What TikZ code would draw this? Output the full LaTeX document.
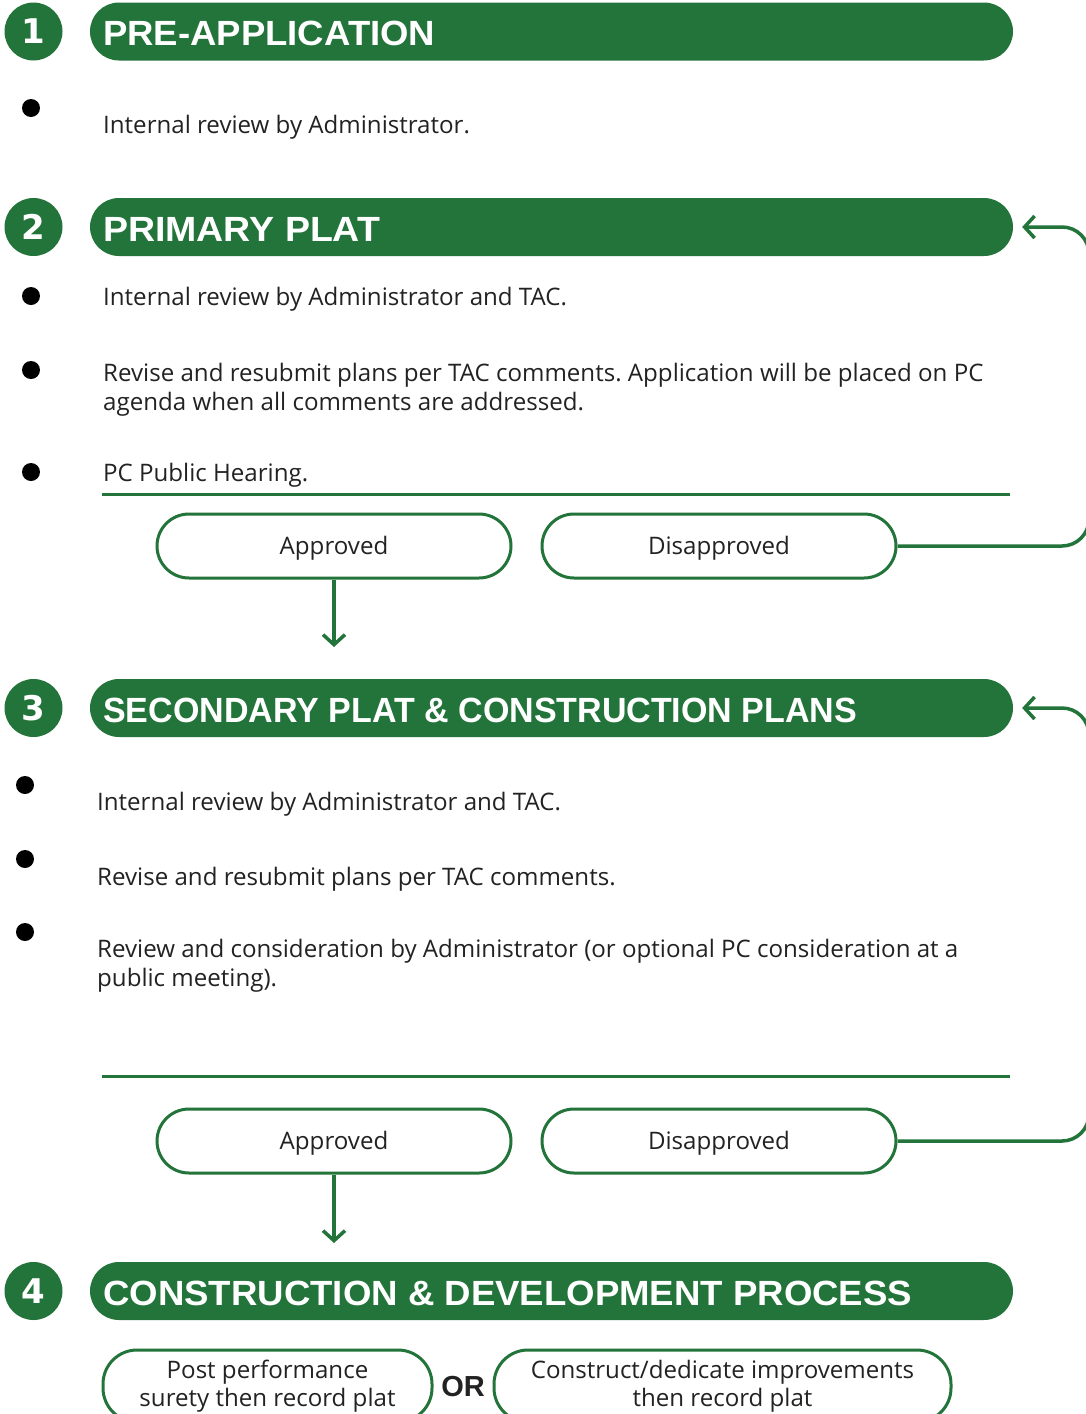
\documentclass[tikz,border=0pt]{standalone}
\usepackage{fontspec}
\usepackage{graphicx}
\setmainfont{Open Sans}
\newfontfamily\headfont{Liberation Sans}
\newfontfamily\digitfont{DejaVu Sans}
\usetikzlibrary{arrows.meta}
\frenchspacing
\definecolor{planGreen}{HTML}{22743A}
\definecolor{bodyInk}{HTML}{222222}

\tikzset{
  pill/.style={fill=planGreen, draw=none, rounded corners=29pt,
    minimum width=923pt, minimum height=58pt, inner sep=0pt},
  stepdisc/.style={circle, fill=planGreen, minimum size=58pt, inner sep=0pt,
    text=white, font=\digitfont\bfseries\fontsize{34}{34}\selectfont},
  headtext/.style={anchor=base west, inner sep=0pt, text=white,
    font=\headfont\bfseries\fontsize{35}{35}\selectfont},
  bodytext/.style={anchor=base west, inner sep=0pt, text=bodyInk, align=left,
    font=\fontsize{24.1}{28.5}\selectfont},
  dot/.style={circle, fill=black, minimum size=18pt, inner sep=0pt},
  rule/.style={draw=planGreen, line width=3pt},
  choice/.style={draw=planGreen, line width=3pt, rounded corners=32pt,
    minimum width=354pt, minimum height=64pt, inner sep=0pt, text=bodyInk,
    text height=17pt, text depth=0pt,
    font=\fontsize{24.1}{28.5}\selectfont},
  option/.style={draw=planGreen, line width=3pt, rounded corners=34pt,
    minimum height=72pt, inner sep=0pt, text=bodyInk, align=center,
    font=\fontsize{24.1}{28}\selectfont},
  flow/.style={draw=planGreen, line width=3.5pt,
    -{Straight Barb[length=10pt, width=22pt]}},
  loop/.style={flow, rounded corners=27pt},
}

\begin{document}
\begin{tikzpicture}[x=1pt, y=-1pt]
\clip (0,0) rectangle (1086,1414);
\fill[white] (0,0) rectangle (1086,1414);

% ---------- 1  Pre-application ----------
\node[pill] (pill1) at (551.5,31.5) {};
\node[stepdisc] (num1) at (33.5,31.5) {1};
\node[headtext] (head1) at (103,45) {\resizebox{332pt}{\height}{PRE-APPLICATION}};
\node[dot] (b11) at (31,108) {};
\node[bodytext] (t11) at (103,133) {Internal review by Administrator.};

% ---------- 2  Primary plat ----------
\node[pill] (pill2) at (551.5,227) {};
\node[stepdisc] (num2) at (33.5,227) {2};
\node[headtext] (head2) at (103,241) {\resizebox{277pt}{\height}{PRIMARY PLAT}};
\node[dot] (b21) at (31,296) {};
\node[bodytext] (t21) at (103,305) {Internal review by Administrator and TAC.};
\node[dot] (b22) at (31,370) {};
% two-line block: the base anchor sits on the last line
\node[bodytext] (t22) at (103,410) {Revise and resubmit plans per TAC comments. Application will be placed on PC\\agenda when all comments are addressed.};
\node[dot] (b23) at (31,472) {};
\node[bodytext] (t23) at (103,481) {PC Public Hearing.};
\coordinate (r2a) at (102,494);
\coordinate (r2b) at (1010,494);
\draw[rule] (r2a) -- (r2b);

\node[choice] (ap2) at (334,546) {Approved};
\node[choice] (dis2) at (719,546) {Disapproved};
\coordinate (to3) at (334,647);
\draw[flow] (ap2.south) -- (to3);
% the return path runs along the page edge, mostly outside it
\draw[loop] (dis2.east) -| (1089,300) |- ([xshift=9pt]pill2.east);

% ---------- 3  Secondary plat ----------
\node[pill] (pill3) at (551.5,708) {};
\node[stepdisc] (num3) at (33.5,708) {3};
\node[headtext] (head3) at (103,722) {\resizebox{754pt}{\height}{SECONDARY PLAT \& CONSTRUCTION PLANS}};
\node[dot] (b31) at (25,785) {};
\node[bodytext] (t31) at (97,810) {Internal review by Administrator and TAC.};
\node[dot] (b32) at (25,859) {};
\node[bodytext] (t32) at (97,885) {Revise and resubmit plans per TAC comments.};
\node[dot] (b33) at (25,932) {};
\node[bodytext] (t33) at (97,986) {Review and consideration by Administrator (or optional PC consideration at a\\public meeting).};
\coordinate (r3a) at (102,1076);
\coordinate (r3b) at (1010,1076);
\draw[rule] (r3a) -- (r3b);

\node[choice] (ap3) at (334,1141) {Approved};
\node[choice] (dis3) at (719,1141) {Disapproved};
\coordinate (to4) at (334,1243);
\draw[flow] (ap3.south) -- (to4);
\draw[loop] (dis3.east) -| (1089,800) |- ([xshift=9pt]pill3.east);

% ---------- 4  Construction & development ----------
\node[pill] (pill4) at (551.5,1291) {};
\node[stepdisc] (num4) at (33.5,1291) {4};
\node[headtext] (head4) at (103,1305) {\resizebox{809pt}{\height}{CONSTRUCTION \& DEVELOPMENT PROCESS}};

\node[option, minimum width=329pt] (opt1) at (267.5,1386) {Post performance\\surety then record plat};
\node[text=bodyInk, font=\headfont\bfseries\fontsize{29}{29}\selectfont, inner sep=0pt] (or) at (463,1386) {OR};
\node[option, minimum width=457pt] (opt2) at (722.5,1386) {Construct/dedicate improvements\\then record plat};
\end{tikzpicture}
\end{document}
